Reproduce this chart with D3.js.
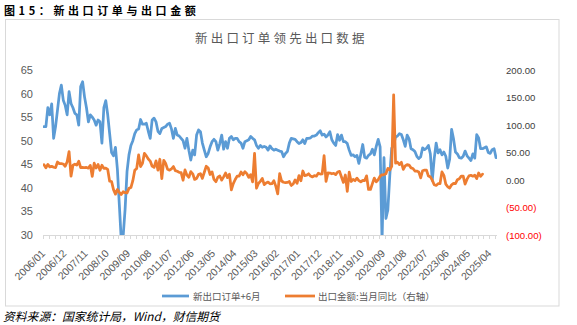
<!DOCTYPE html>
<html>
<head>
<meta charset="utf-8">
<script src="https://cdn.jsdelivr.net/npm/d3@7"></script>
<style>
  body { margin: 0; background: #fff; }
  text { font-family: "Liberation Sans", Arial, sans-serif; }
  .cjk { font-family: "Noto Sans CJK SC", "Noto Sans", sans-serif; }
</style>
</head>
<body>
<svg id="chart" width="577" height="325"></svg>
<script>
// 新出口订单（PMI 分项，领先 6 个月），2006/01 起按月
const firstYear = 2006;
const newExportOrders = [
  53.0, 53.0, 57.0, 55.5, 57.8, 50.5, 53.0, 56.5, 60.0, 61.8, 58.6, 57.5,
  55.5, 60.4, 57.9, 57.0, 55.8, 55.5, 53.3, 61.5, 62.5, 59.3, 57.0, 54.0,
  55.5, 55.0, 54.4, 53.3, 54.4, 54.0, 49.5, 57.0, 58.5, 55.5, 51.5, 47.5,
  46.8, 48.6, 44.0, 36.5, 29.0, 29.8, 35.5, 43.5, 47.0, 49.0, 50.0, 51.5,
  52.3, 52.5, 54.5, 53.5, 53.5, 53.7, 52.0, 50.5, 54.4, 54.8, 54.0, 52.0,
  51.5, 52.6, 52.8, 53.0, 53.5, 53.7, 52.5, 50.5, 52.6, 51.2, 51.0, 50.5,
  50.0, 48.4, 50.5, 48.0, 45.9, 48.0, 47.0, 51.2, 52.3, 51.9, 49.5, 48.0,
  46.6, 47.3, 48.7, 49.8, 50.3, 49.8, 48.0, 49.4, 51.2, 48.2, 49.8, 48.4,
  50.5, 50.9, 50.2, 50.5, 50.5, 49.8, 49.5, 48.4, 49.8, 50.0, 50.2, 50.9,
  50.5, 50.2, 49.0, 48.4, 49.0, 48.6, 48.8, 48.6, 48.0, 48.9, 48.3, 48.0,
  48.2, 48.0, 47.8, 47.7, 46.6, 47.3, 47.7, 49.5, 50.5, 50.4, 50.3, 49.8,
  49.4, 49.6, 50.2, 49.4, 50.5, 50.5, 50.6, 51.0, 51.0, 51.2, 51.7, 52.1,
  51.2, 51.4, 50.8, 51.2, 51.9, 50.2, 49.5, 49.0, 51.3, 50.1, 51.2, 49.8,
  49.8, 49.4, 48.0, 46.9, 47.0, 46.6, 46.9, 45.2, 47.1, 49.2, 46.5, 46.3,
  46.9, 47.2, 48.2, 47.0, 48.8, 50.3, 48.7, 28.7, 46.4, 33.5, 35.3, 42.6,
  48.4, 49.1, 50.8, 51.0, 51.5, 51.3, 50.2, 48.8, 51.2, 50.4, 48.3, 48.1,
  47.7, 46.7, 46.2, 46.6, 48.5, 48.1, 48.4, 49.0, 47.2, 41.6, 46.2, 49.5,
  47.4, 48.1, 47.0, 47.6, 46.7, 44.2, 46.1, 52.4, 50.4, 47.6, 47.2, 46.4,
  46.3, 46.7, 47.8, 46.8, 46.3, 45.8, 47.2, 46.3, 51.3, 50.6, 48.3, 48.3,
  48.5, 48.7, 47.5, 47.3, 48.1, 48.3, 46.4
];

// 出口金额：当月同比（%，右轴），2006/01 起按月
const exportYoY = [
  28.0, 22.2, 28.3, 23.9, 24.8, 23.2, 22.6, 32.8, 29.8, 29.6, 29.1, 24.9,
  33.1, 51.7, 6.9, 26.8, 28.8, 27.1, 34.1, 22.7, 23.0, 22.3, 22.8, 21.7,
  26.6, 6.5, 30.6, 21.8, 28.1, 17.6, 26.9, 21.1, 21.5, 19.2, -2.2, -2.8,
  -17.5, -25.7, -17.1, -22.6, -26.4, -21.4, -23.0, -23.4, -15.2, -13.8, -1.2, 17.7,
  21.0, 45.7, 24.3, 30.5, 48.5, 43.9, 38.1, 34.4, 25.1, 22.9, 34.9, 17.9,
  37.7, 2.4, 35.8, 29.9, 19.4, 17.9, 20.4, 24.5, 17.1, 15.9, 13.8, 13.4,
  -0.5, 18.4, 8.9, 4.9, 15.3, 11.3, 1.0, 2.7, 9.9, 11.6, 2.9, 14.1,
  25.0, 21.8, 10.0, 14.7, 1.0, -3.1, 5.1, 7.2, -0.3, 5.6, 12.7, 4.3,
  10.6, -18.1, -6.6, 0.9, 7.0, 7.2, 14.5, 9.4, 15.3, 11.6, 4.7, 9.7,
  -3.3, 48.3, -15.0, -6.4, -2.5, 2.8, -8.3, -5.5, -3.7, -6.9, -6.8, -1.4,
  -11.2, -25.4, 11.5, -1.8, -4.1, -4.8, -4.4, -2.8, -10.0, -7.3, 0.1, -6.1,
  7.9, -1.3, 16.4, 8.0, 8.7, 11.3, 7.2, 5.5, 8.1, 6.9, 12.3, 10.9,
  11.1, 44.5, -2.7, 12.9, 12.6, 11.3, 12.2, 9.8, 14.5, 15.6, 5.4, -4.4,
  9.1, -20.7, 14.2, -2.7, 1.1, -1.3, 3.3, -1.0, -3.2, -0.9, -1.1, 7.6,
  -17.2, -17.2, -6.6, 3.5, -3.3, 0.5, 7.2, 9.5, 9.9, 11.4, 21.1, 18.1,
  24.7, 154.9, 30.6, 32.3, 27.9, 32.2, 19.3, 25.6, 28.1, 27.1, 22.0, 20.9,
  16.3, 16.3, 14.7, 3.9, 16.9, 17.9, 18.0, 7.1, 5.7, -0.3, -8.7, -9.9,
  -6.8, -6.8, 14.8, 8.5, -7.5, -12.4, -14.5, -8.8, -6.2, -6.4, 0.5, 2.3,
  7.1, 7.1, -7.5, 1.5, 7.6, 8.6, 7.0, 8.7, 2.4, 12.7, 6.7, 10.7
];

// 横轴标签（每 11 个月一个）
const xTickLabels = [
  "2006/01", "2006/12", "2007/11", "2008/10", "2009/09", "2010/08", "2011/07",
  "2012/06", "2013/05", "2014/04", "2015/03", "2016/02", "2017/01", "2017/12",
  "2018/11", "2019/10", "2020/09", "2021/08", "2022/07", "2023/06", "2024/05",
  "2025/04"
];
const leftTicks = [30, 35, 40, 45, 50, 55, 60, 65];
const rightTicks = [-100, -50, 0, 50, 100, 150, 200];

const seriesNames = ["新出口订单+6月", "出口金额:当月同比（右轴）"];
const chartTitle = "新出口订单领先出口数据";
const figureTitle = "图15：新出口订单与出口金额";
const sourceNote = "资料来源：国家统计局，Wind，财信期货";

// 月份类别
const months = newExportOrders.map((_, i) =>
  `${firstYear + Math.floor(i / 12)}/${String(i % 12 + 1).padStart(2, "0")}`);

const svg = d3.select("#chart");
const plot = { left: 43, right: 497, top: 70, bottom: 235 };

const x = d3.scaleBand().domain(months).range([plot.left, plot.right]).padding(0);
const cx = m => x(m) + x.bandwidth() / 2;
const yL = d3.scaleLinear().domain([30, 65]).range([plot.bottom, plot.top]);
const yR = d3.scaleLinear().domain([-100, 200]).range([plot.bottom, plot.top]);

// 外框
svg.append("rect")
  .attr("x", 5.5).attr("y", 19.5).attr("width", 553.5).attr("height", 286.5)
  .attr("fill", "#fff").attr("stroke", "#d9d9d9").attr("stroke-width", 1);

// 图号标题
svg.append("text").attr("class", "cjk")
  .attr("x", 4).attr("y", 15)
  .attr("font-size", 11).attr("font-weight", "bold").attr("letter-spacing", 3.6)
  .attr("fill", "#000").text(figureTitle);

// 图表标题
svg.append("text").attr("class", "cjk")
  .attr("x", 195).attr("y", 43)
  .attr("font-size", 12.5).attr("letter-spacing", 3.2)
  .attr("fill", "#595959").text(chartTitle);

// 左轴
const gL = svg.append("g").attr("transform", `translate(${plot.left},0)`)
  .call(d3.axisLeft(yL).tickValues(leftTicks).tickSize(0).tickPadding(10));
gL.select(".domain").remove();
gL.selectAll("text").attr("font-size", 11).attr("fill", "#595959")
  .attr("font-family", "Liberation Sans, Arial, sans-serif");

// 右轴
const fmtR = v => v < 0 ? `(${d3.format(".2f")(-v)})` : d3.format(".2f")(v);
const gR = svg.append("g").attr("transform", `translate(${plot.right},0)`)
  .call(d3.axisRight(yR).tickValues(rightTicks).tickSize(0).tickPadding(9).tickFormat(fmtR));
gR.select(".domain").remove();
gR.selectAll("text").attr("font-size", 9.6)
  .attr("font-family", "DejaVu Sans Mono, monospace")
  .attr("fill", d => d < 0 ? "#ff0000" : "#404040");

// 横轴：轴线、刻度（每 3 个月）与斜排标签
const gX = svg.append("g");
gX.append("line")
  .attr("x1", plot.left).attr("x2", plot.right)
  .attr("y1", plot.bottom + 0.5).attr("y2", plot.bottom + 0.5)
  .attr("stroke", "#d9d9d9").attr("stroke-width", 1);
const tickMonths = months.filter((_, i) => i % 3 === 0);
gX.selectAll("line.tick").data(tickMonths).join("line").attr("class", "tick")
  .attr("x1", m => Math.round(x(m)) + 0.5).attr("x2", m => Math.round(x(m)) + 0.5)
  .attr("y1", plot.bottom).attr("y2", plot.bottom + 4)
  .attr("stroke", "#d9d9d9").attr("stroke-width", 1);
gX.selectAll("text").data(xTickLabels).join("text")
  .attr("transform", m => `translate(${cx(m) + 2},${plot.bottom + 19}) rotate(-45)`)
  .attr("text-anchor", "end")
  .attr("font-size", 10.5).attr("fill", "#595959")
  .text(m => m);

// 绘图区裁剪
svg.append("defs").append("clipPath").attr("id", "plot-clip")
  .append("rect")
  .attr("x", plot.left).attr("y", plot.top - 5)
  .attr("width", plot.right - plot.left).attr("height", plot.bottom - plot.top + 5);

const gLines = svg.append("g").attr("clip-path", "url(#plot-clip)");

const lineL = d3.line().x((d, i) => cx(months[i])).y(d => yL(d));
const lineR = d3.line().x((d, i) => cx(months[i])).y(d => yR(d));

gLines.append("path").datum(newExportOrders)
  .attr("d", lineL).attr("fill", "none")
  .attr("stroke", "#5b9bd5").attr("stroke-width", 2.75)
  .attr("stroke-linejoin", "round").attr("stroke-linecap", "round");

gLines.append("path").datum(exportYoY)
  .attr("d", lineR).attr("fill", "none")
  .attr("stroke", "#ed7d31").attr("stroke-width", 2.75)
  .attr("stroke-linejoin", "round").attr("stroke-linecap", "round");

// 图例
const legend = [
  { name: seriesNames[0], color: "#5b9bd5", x0: 162, x1: 189, tx: 193 },
  { name: seriesNames[1], color: "#ed7d31", x0: 285, x1: 315, tx: 318 }
];
const gLeg = svg.append("g");
legend.forEach(l => {
  gLeg.append("line")
    .attr("x1", l.x0).attr("x2", l.x1).attr("y1", 296).attr("y2", 296)
    .attr("stroke", l.color).attr("stroke-width", 2.75);
  gLeg.append("text").attr("class", "cjk")
    .attr("x", l.tx).attr("y", 299.5)
    .attr("font-size", 9.5).attr("fill", "#595959").text(l.name);
});

// 资料来源
svg.append("text").attr("class", "cjk")
  .attr("x", 3).attr("y", 321)
  .attr("font-size", 11.8).attr("font-style", "italic")
  .attr("fill", "#000").text(sourceNote);
</script>
</body>
</html>
